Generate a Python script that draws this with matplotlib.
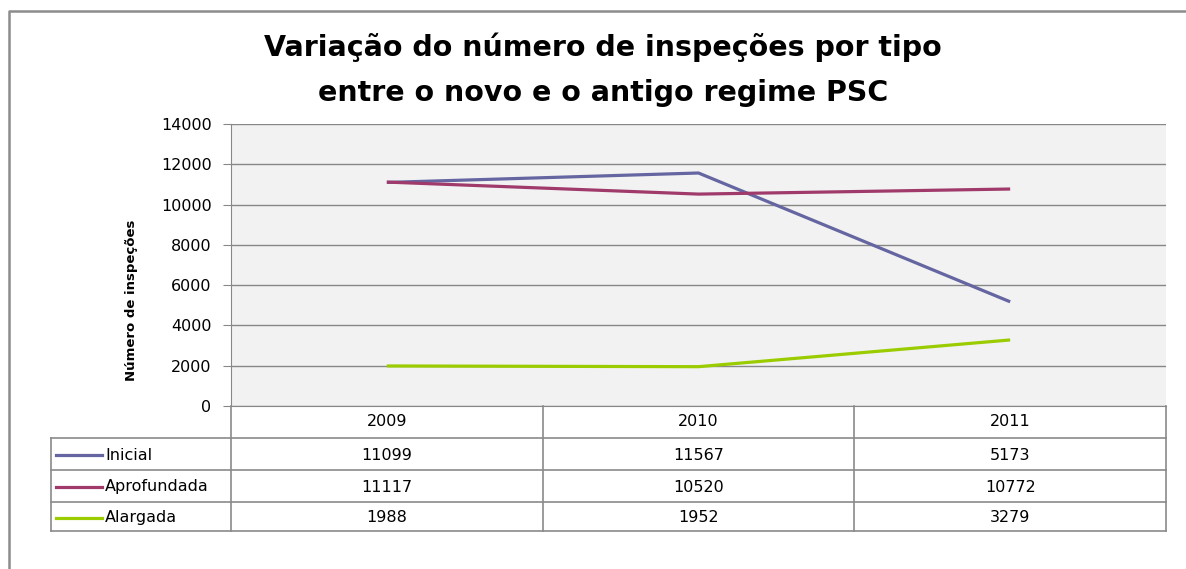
import matplotlib
matplotlib.use('Agg')
import matplotlib.pyplot as plt
from matplotlib.lines import Line2D

# data
anos = ['2009', '2010', '2011']
inicial = [11099, 11567, 5173]
aprofundada = [11117, 10520, 10772]
alargada = [1988, 1952, 3279]
series = [('Inicial', inicial, '#6565A1'),
          ('Aprofundada', aprofundada, '#A03A6B'),
          ('Alargada', alargada, '#9BCC00')]
yticks = [0, 2000, 4000, 6000, 8000, 10000, 12000, 14000]

W, H = 1186, 569
fig = plt.figure(figsize=(W / 100, H / 100), dpi=100)
fig.patch.set_facecolor('white')

def fx(px):
    return px / W

def fy(py):
    return 1 - py / H

# plot area in pixels
left, right, top, bottom = 231, 1166, 124, 406
ax = fig.add_axes([fx(left), fy(bottom), fx(right) - fx(left), fy(top) - fy(bottom)])
ax.set_facecolor('#F2F2F2')

x = range(len(anos))
for name, vals, col in series:
    ax.plot(x, vals, color=col, lw=2.3, solid_capstyle='butt', zorder=3)

ax.set_xlim(-0.5, len(anos) - 0.5)
ax.set_ylim(0, 14000)
ax.set_yticks(yticks)
ax.set_yticklabels([str(v) for v in yticks], fontsize=11.5)
ax.set_xticks([])
ax.grid(axis='y', color='#878787', lw=1)
ax.set_axisbelow(True)
ax.tick_params(axis='y', length=6, color='#878787', pad=8)
for s in ['top', 'right']:
    ax.spines[s].set_visible(False)
ax.spines['left'].set_color('#878787')
ax.spines['bottom'].set_color('#878787')

ax.set_ylabel('Número de inspeções', fontsize=9.5, fontweight='bold')
ax.yaxis.set_label_coords((138 - left) / (right - left), (bottom - 300) / (bottom - top))

fig.text(fx(603), fy(47), 'Variação do número de inspeções por tipo',
         ha='center', va='center', fontsize=20.5, fontweight='bold')
fig.text(fx(603), fy(93), 'entre o novo e o antigo regime PSC',
         ha='center', va='center', fontsize=20.5, fontweight='bold')

# data table under the plot
gcol = '#8A8A8A'
col_w = (right - left) / len(anos)
row_top = [438, 470, 502]
row_bot = 531
tab_left = 51

def hline(py, x0, x1):
    fig.add_artist(Line2D([fx(x0), fx(x1)], [fy(py), fy(py)], color=gcol, lw=1.2,
                          transform=fig.transFigure))

def vline(px, y0, y1):
    fig.add_artist(Line2D([fx(px), fx(px)], [fy(y0), fy(y1)], color=gcol, lw=1.2,
                          transform=fig.transFigure))

for py in row_top:
    hline(py, tab_left, right)
hline(row_bot, tab_left, right)
vline(tab_left, row_top[0], row_bot)
for i in range(len(anos) + 1):
    vline(left + i * col_w, bottom, row_bot)

for i, a in enumerate(anos):
    fig.text(fx(left + (i + 0.5) * col_w), fy(422), a, ha='center', va='center', fontsize=11.5)

row_h = [row_top[1] - row_top[0], row_top[2] - row_top[1], row_bot - row_top[2]]
for r, (name, vals, col) in enumerate(series):
    yc = row_top[r] + row_h[r] / 2 + 1
    fig.add_artist(Line2D([fx(56), fx(102)], [fy(yc), fy(yc)], color=col, lw=2.3,
                          transform=fig.transFigure))
    fig.text(fx(105), fy(yc), name, ha='left', va='center', fontsize=11.5)
    for i, v in enumerate(vals):
        fig.text(fx(left + (i + 0.5) * col_w), fy(yc), str(v), ha='center', va='center',
                 fontsize=11.5)

# outer chart border (cropped at right and bottom)
fig.add_artist(Line2D([fx(9), fx(9), fx(W)], [0, fy(11), fy(11)], color='#8C8C8C', lw=1.8,
                      transform=fig.transFigure))

fig.savefig('out.png', dpi=100)
